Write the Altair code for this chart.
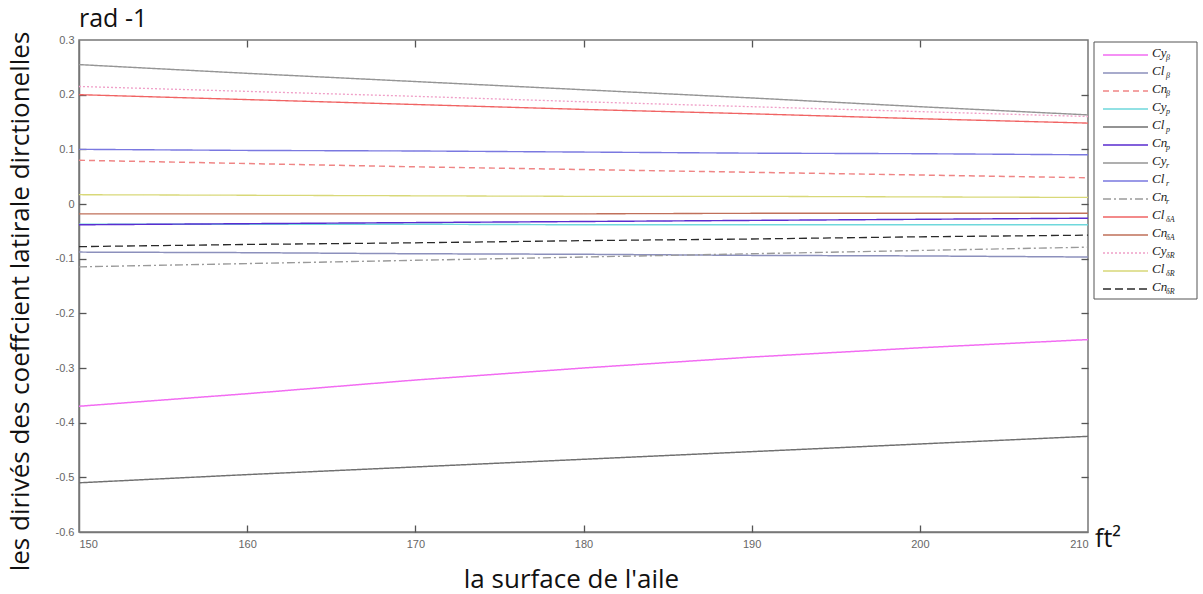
import altair as alt
import pandas as pd

surface = [150, 160, 170, 180, 190, 200, 210]

names = ["Cyβ", "Clβ", "Cnβ", "Cyp", "Clp", "Cnp", "Cyr", "Clr", "Cnr",
         "ClδA", "CnδA", "CyδR", "ClδR", "CnδR"]

values = {
    "Cyβ":  [-0.370, -0.347, -0.322, -0.300, -0.280, -0.263, -0.248],
    "Clβ":  [-0.088, -0.089, -0.091, -0.092, -0.094, -0.095, -0.097],
    "Cnβ":  [0.080, 0.074, 0.068, 0.063, 0.058, 0.053, 0.048],
    "Cyp":  [-0.037, -0.037, -0.037, -0.038, -0.038, -0.038, -0.038],
    "Clp":  [-0.510, -0.495, -0.481, -0.467, -0.453, -0.439, -0.425],
    "Cnp":  [-0.038, -0.036, -0.034, -0.032, -0.030, -0.028, -0.026],
    "Cyr":  [0.255, 0.239, 0.224, 0.209, 0.194, 0.178, 0.163],
    "Clr":  [0.100, 0.098, 0.097, 0.095, 0.093, 0.092, 0.090],
    "Cnr":  [-0.115, -0.109, -0.103, -0.097, -0.091, -0.085, -0.079],
    "ClδA": [0.200, 0.191, 0.182, 0.173, 0.165, 0.156, 0.148],
    "CnδA": [-0.018, -0.018, -0.018, -0.018, -0.017, -0.017, -0.017],
    "CyδR": [0.215, 0.206, 0.197, 0.187, 0.178, 0.169, 0.160],
    "ClδR": [0.017, 0.016, 0.015, 0.014, 0.014, 0.013, 0.012],
    "CnδR": [-0.078, -0.074, -0.071, -0.067, -0.064, -0.060, -0.057],
}

colors = ["#f26cf2", "#8c90bc", "#ef8585", "#6fd8dc", "#707070", "#5a2dd0", "#959595",
          "#7a78e0", "#9a9a9a", "#f06464", "#c0705a", "#f0a0c8", "#d8d878", "#2a2a2a"]
dashes = [[1, 0], [1, 0], [6, 4], [1, 0], [1, 0], [1, 0], [1, 0],
          [1, 0], [8, 3, 2, 3], [1, 0], [1, 0], [2, 2], [1, 0], [8, 4]]
widths = [1.5, 1.3, 1.3, 1.2, 1.1, 2.5, 1.3, 1.3, 1.3, 1.3, 1.3, 1.3, 1.5, 2.5]

x_ticks = [150, 160, 170, 180, 190, 200, 210]
y_ticks = [-0.6, -0.5, -0.4, -0.3, -0.2, -0.1, 0.0, 0.1, 0.2, 0.3]

rows = []
for n in names:
    for xv, yv in zip(surface, values[n]):
        rows.append({"surface": xv, "value": yv, "series": n})
df = pd.DataFrame(rows)

# legend table
leg_df = pd.DataFrame({
    "series": names,
    "row": list(range(len(names))),
    "base": [n[:2] for n in names],
    "sub": [n[2:] for n in names],
})

xscale = alt.Scale(domain=[150, 210], nice=False, zero=False)
yscale = alt.Scale(domain=[-0.6, 0.3], nice=False, zero=False)
cscale = alt.Scale(domain=names, range=colors)
dscale = alt.Scale(domain=names, range=dashes)
wscale = alt.Scale(domain=names, range=widths)

xaxis = alt.Axis(orient="bottom", values=x_ticks, ticks=False, grid=False, labelColor="#666",
                 labelFontSize=11, labelFont="Liberation Sans", labelPadding=6,
                 domainColor="#777", domainWidth=1.5,
                 title="la surface de l'aile", titleFont="Open Sans",
                 titleFontSize=26, titleFontWeight="normal", titleColor="#111",
                 titleX=492, titleY=47, titleAnchor="middle", titleBaseline="middle",
                 titleAlign="center")
yaxis = alt.Axis(orient="left", values=y_ticks, ticks=False, grid=False, labelColor="#666",
                 labelFontSize=11, labelFont="Liberation Sans", labelPadding=5,
                 labelExpr="datum.value == 0 ? '0' : replace(format(datum.value, '.1f'), '\u2212', '-')",
                 domainColor="#777", domainWidth=1.5,
                 title="les dirivés des coeffcient latirale dirctionelles",
                 titleFont="Open Sans", titleFontSize=26, titleFontWeight="normal",
                 titleColor="#111", titleAngle=270, titleX=-59, titleY=261,
                 titleAlign="center", titleBaseline="middle")

# MATLAB-style inner ticks: tick-only axes pulled inside the frame
def inner_axis(orient, vals):
    return alt.Axis(orient=orient, offset=-7, values=vals, ticks=True, tickSize=7,
                    tickColor="#555", tickWidth=1.3, labels=False, domain=False,
                    grid=False, title=None)

lines = alt.Chart(df).mark_line(clip=True).encode(
    x=alt.X("surface:Q", scale=xscale, axis=xaxis),
    y=alt.Y("value:Q", scale=yscale, axis=yaxis),
    color=alt.Color("series:N", scale=cscale, legend=None),
    strokeDash=alt.StrokeDash("series:N", scale=dscale, legend=None),
    strokeWidth=alt.StrokeWidth("series:N", scale=wscale, legend=None),
)

ticks_bl = alt.Chart(df).mark_point(opacity=0).encode(
    x=alt.X("surface:Q", scale=xscale, axis=inner_axis("bottom", x_ticks[1:-1])),
    y=alt.Y("value:Q", scale=yscale, axis=inner_axis("left", y_ticks[1:-1])),
)
ticks_tr = alt.Chart(df).mark_point(opacity=0).encode(
    x=alt.X("surface:Q", scale=xscale, axis=inner_axis("top", x_ticks[1:-1])),
    y=alt.Y("value:Q", scale=yscale, axis=inner_axis("right", y_ticks[1:-1])),
)

rad = alt.Chart(pd.DataFrame({"t": ["rad -1"]})).mark_text(
    align="left", baseline="middle", font="Open Sans", fontSize=25, color="#111", dy=-21, dx=0
).encode(x=alt.XDatum(150, scale=xscale, axis=None),
         y=alt.YDatum(0.3, scale=yscale, axis=None), text="t:N")

ft = alt.Chart(pd.DataFrame({"t": ["ft²"]})).mark_text(
    align="left", baseline="middle", font="Open Sans", fontSize=25, color="#111", dx=7, dy=7
).encode(x=alt.XDatum(210, scale=xscale, axis=None),
         y=alt.YDatum(-0.6, scale=yscale, axis=None), text="t:N")

main = alt.layer(lines, ticks_bl, ticks_tr, rad, ft).resolve_axis(x="independent", y="independent")

# custom legend (MATLAB style box)
lrow = alt.Scale(domain=[0, len(names) - 1], range=[15, 249])
leg_box = alt.Chart(pd.DataFrame({"a": [0]})).mark_rect(
    fill="white", stroke="#555", strokeWidth=1
).encode(x=alt.value(1015), x2=alt.value(1118), y=alt.value(2), y2=alt.value(259))
leg_lines = alt.Chart(leg_df).mark_rule().encode(
    x=alt.value(1024), x2=alt.value(1069),
    y=alt.Y("row:Q", scale=lrow, axis=None),
    color=alt.Color("series:N", scale=cscale, legend=None),
    strokeDash=alt.StrokeDash("series:N", scale=dscale, legend=None),
    strokeWidth=alt.StrokeWidth("series:N", scale=wscale, legend=None),
)
leg_base = alt.Chart(leg_df).mark_text(
    align="left", baseline="middle", font="Liberation Serif", fontStyle="italic",
    fontSize=13, color="#222", dy=-2
).encode(x=alt.value(1073), y=alt.Y("row:Q", scale=lrow, axis=None), text="base:N")
leg_sub = alt.Chart(leg_df).mark_text(
    align="left", baseline="middle", font="Liberation Serif", fontStyle="italic",
    fontSize=8, color="#222", dy=3
).encode(x=alt.value(1087), y=alt.Y("row:Q", scale=lrow, axis=None), text="sub:N")
legend = alt.layer(leg_box, leg_lines, leg_base, leg_sub)

chart = alt.layer(main, legend).resolve_scale(y="independent").properties(
    width=1009, height=492,
    autosize=alt.AutoSizeParams(type="none"),
    padding={"left": 79, "top": 40, "right": 115, "bottom": 62},
    background="white",
).configure_view(stroke="#777", strokeWidth=1.5)

chart.save("out.html", embed_options={"renderer": "svg", "actions": False})
